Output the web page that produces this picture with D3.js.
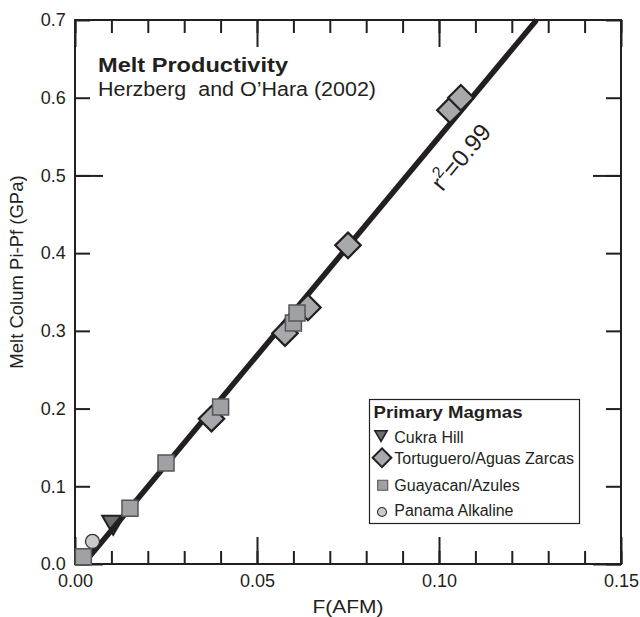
<!DOCTYPE html>
<html>
<head>
<meta charset="utf-8">
<script src="https://cdn.jsdelivr.net/npm/d3@7"></script>
<style>
  html, body { margin: 0; padding: 0; background: #fff; }
  svg { display: block; font-family: "Liberation Sans", Arial, Helvetica, sans-serif; }
</style>
</head>
<body>
<svg id="chart" width="640" height="617"></svg>
<script>
// ---- data ----
const cukraHill = [[0.0105, 0.054]];
const tortuguero = [[0.0375, 0.187], [0.0577, 0.297], [0.064, 0.330], [0.075, 0.410], [0.103, 0.584], [0.106, 0.600]];
const guayacan = [[0.0023, 0.0094], [0.0151, 0.0717], [0.025, 0.130], [0.040, 0.202], [0.060, 0.310], [0.061, 0.323]];
const panama = [[0.0048, 0.029]];
const fitLine = [[0.0023, 0.0], [0.1268, 0.7]];
const xMajorTicks = [0, 0.05, 0.10, 0.15];
const yTicks = [0, 0.1, 0.2, 0.3, 0.4, 0.5, 0.6, 0.7];
const yMajorTicks = [0, 0.5];
const legendLabels = ["Cukra Hill", "Tortuguero/Aguas Zarcas", "Guayacan/Azules", "Panama Alkaline"];

const INK = "#231f20";
const svg = d3.select("#chart");
const x = d3.scaleLinear().domain([0, 0.15]).range([75, 621]);
const y = d3.scaleLinear().domain([0, 0.7]).range([564, 20]);
const xMinor = d3.range(0, 0.1501, 0.01);

function styleAxis(g, labels) {
  g.select(".domain").remove();
  g.selectAll(".tick line").attr("stroke", INK).attr("stroke-width", 2);
  if (!labels) g.selectAll(".tick text").remove();
  else g.selectAll(".tick text").attr("fill", INK).attr("font-size", 18);
}

// bottom axis
svg.append("g").attr("transform", `translate(0,${y(0)})`)
  .call(d3.axisBottom(x).tickValues(xMinor).tickSize(-13).tickFormat(""))
  .call(g => styleAxis(g, false));
svg.append("g").attr("transform", `translate(0,${y(0)})`)
  .call(d3.axisBottom(x).tickValues(xMajorTicks).tickSize(-27).tickPadding(10).tickFormat(d3.format(".2f")))
  .call(g => styleAxis(g, true));
// top axis
svg.append("g").attr("transform", `translate(0,${y(0.7)})`)
  .call(d3.axisTop(x).tickValues(xMinor).tickSize(-13).tickFormat(""))
  .call(g => styleAxis(g, false));
svg.append("g").attr("transform", `translate(0,${y(0.7)})`)
  .call(d3.axisTop(x).tickValues(xMajorTicks).tickSize(-27).tickFormat(""))
  .call(g => styleAxis(g, false));
// left axis
svg.append("g").attr("transform", `translate(${x(0)},0)`)
  .call(d3.axisLeft(y).tickValues(yTicks).tickSize(-15).tickPadding(9.3).tickFormat(d3.format(".1f")))
  .call(g => styleAxis(g, true));
svg.append("g").attr("transform", `translate(${x(0)},0)`)
  .call(d3.axisLeft(y).tickValues(yMajorTicks).tickSize(-28).tickFormat(""))
  .call(g => styleAxis(g, false));
// right axis
svg.append("g").attr("transform", `translate(${x(0.15)},0)`)
  .call(d3.axisRight(y).tickValues(yTicks).tickSize(-15).tickFormat(""))
  .call(g => styleAxis(g, false));
svg.append("g").attr("transform", `translate(${x(0.15)},0)`)
  .call(d3.axisRight(y).tickValues(yMajorTicks).tickSize(-28).tickFormat(""))
  .call(g => styleAxis(g, false));

// frame
svg.append("rect")
  .attr("x", x(0)).attr("y", y(0.7))
  .attr("width", x(0.15) - x(0)).attr("height", y(0) - y(0.7))
  .attr("fill", "none").attr("stroke", INK).attr("stroke-width", 2);

// axis titles
svg.append("text")
  .attr("x", 348).attr("y", 613).attr("text-anchor", "middle")
  .attr("font-size", 18.5).attr("fill", INK)
  .attr("textLength", 71).attr("lengthAdjust", "spacingAndGlyphs")
  .text("F(AFM)");
svg.append("text")
  .attr("transform", "translate(23,272) rotate(-90)")
  .attr("text-anchor", "middle").attr("font-size", 18.5).attr("fill", INK)
  .text("Melt Colum Pi-Pf (GPa)");

// plot title
svg.append("text").attr("x", 98).attr("y", 71.7)
  .attr("font-size", 20).attr("font-weight", "bold").attr("fill", INK)
  .attr("textLength", 190).attr("lengthAdjust", "spacingAndGlyphs")
  .text("Melt Productivity");
svg.append("text").attr("x", 98).attr("y", 95.7)
  .attr("font-size", 19.5).attr("fill", INK)
  .attr("textLength", 278).attr("lengthAdjust", "spacingAndGlyphs")
  .text("Herzberg \u00a0and O\u2019Hara (2002)");

// symbols
const sym = {
  tri: { type: d3.symbolTriangle, fill: "#6d6e71", stroke: INK, sw: 2, rot: 180 },
  dia: { type: d3.symbolSquare, fill: "#a7a9ac", stroke: INK, sw: 2.2, rot: 45 },
  sq: { type: d3.symbolSquare, fill: "#a0a1a4", stroke: "#555557", sw: 1.5, rot: 0 },
  cir: { type: d3.symbolCircle, fill: "#c9cacc", stroke: "#333335", sw: 1.3, rot: 0 }
};
function drawSeries(data, s, size) {
  svg.append("g").selectAll("path").data(data).join("path")
    .attr("d", d3.symbol().type(s.type).size(size))
    .attr("transform", d => `translate(${x(d[0])},${y(d[1])}) rotate(${s.rot})`)
    .attr("fill", s.fill).attr("stroke", s.stroke).attr("stroke-width", s.sw)
    .attr("stroke-linejoin", "miter");
}

drawSeries(cukraHill, sym.tri, 210);

// regression line
svg.append("path")
  .datum(fitLine)
  .attr("d", d3.line().x(d => x(d[0])).y(d => y(d[1])))
  .attr("stroke", INK).attr("stroke-width", 5.5).attr("fill", "none");

drawSeries(panama, sym.cir, 154);
drawSeries(tortuguero, sym.dia, 324);
drawSeries(guayacan, sym.sq, 256);

// r^2 label
const ang = Math.atan2(y(fitLine[0][1]) - y(fitLine[1][1]), x(fitLine[1][0]) - x(fitLine[0][0])) * 180 / Math.PI;
const r2 = svg.append("text")
  .attr("transform", `translate(461,157) rotate(${-ang})`)
  .attr("text-anchor", "middle").attr("dy", "0.35em")
  .attr("font-size", 24).attr("fill", INK);
r2.append("tspan").text("r");
r2.append("tspan").attr("font-size", 16).attr("dy", "-0.7em").text("2");
r2.append("tspan").attr("dy", "0.47em").text("=0.99");

// legend
const lg = svg.append("g");
lg.append("rect").attr("x", 369.5).attr("y", 399.5).attr("width", 210).attr("height", 124)
  .attr("fill", "#fff").attr("stroke", INK).attr("stroke-width", 1.2);
lg.append("text").attr("x", 373.5).attr("y", 417.7)
  .attr("font-size", 16.5).attr("font-weight", "bold").attr("fill", INK)
  .attr("textLength", 149).attr("lengthAdjust", "spacingAndGlyphs")
  .text("Primary Magmas");
const legendRows = [
  { s: sym.tri, size: 66, cx: 381, cy: 434.3, ty: 442.7 },
  { s: sym.dia, size: 175, cx: 382, cy: 457.7, ty: 464.3 },
  { s: sym.sq, size: 100, cx: 382.7, cy: 485.3, ty: 491 },
  { s: sym.cir, size: 64, cx: 382, cy: 512, ty: 516 }
];
legendRows.forEach((r, i) => {
  lg.append("path")
    .attr("d", d3.symbol().type(r.s.type).size(r.size))
    .attr("transform", `translate(${r.cx},${r.cy}) rotate(${r.s.rot})`)
    .attr("fill", r.s.fill).attr("stroke", r.s.stroke)
    .attr("stroke-width", i === 1 ? 2 : (i === 0 ? 1.5 : 1.1));
  lg.append("text").attr("x", 394.3).attr("y", r.ty)
    .attr("font-size", 16).attr("fill", INK).text(legendLabels[i]);
});
</script>
</body>
</html>
